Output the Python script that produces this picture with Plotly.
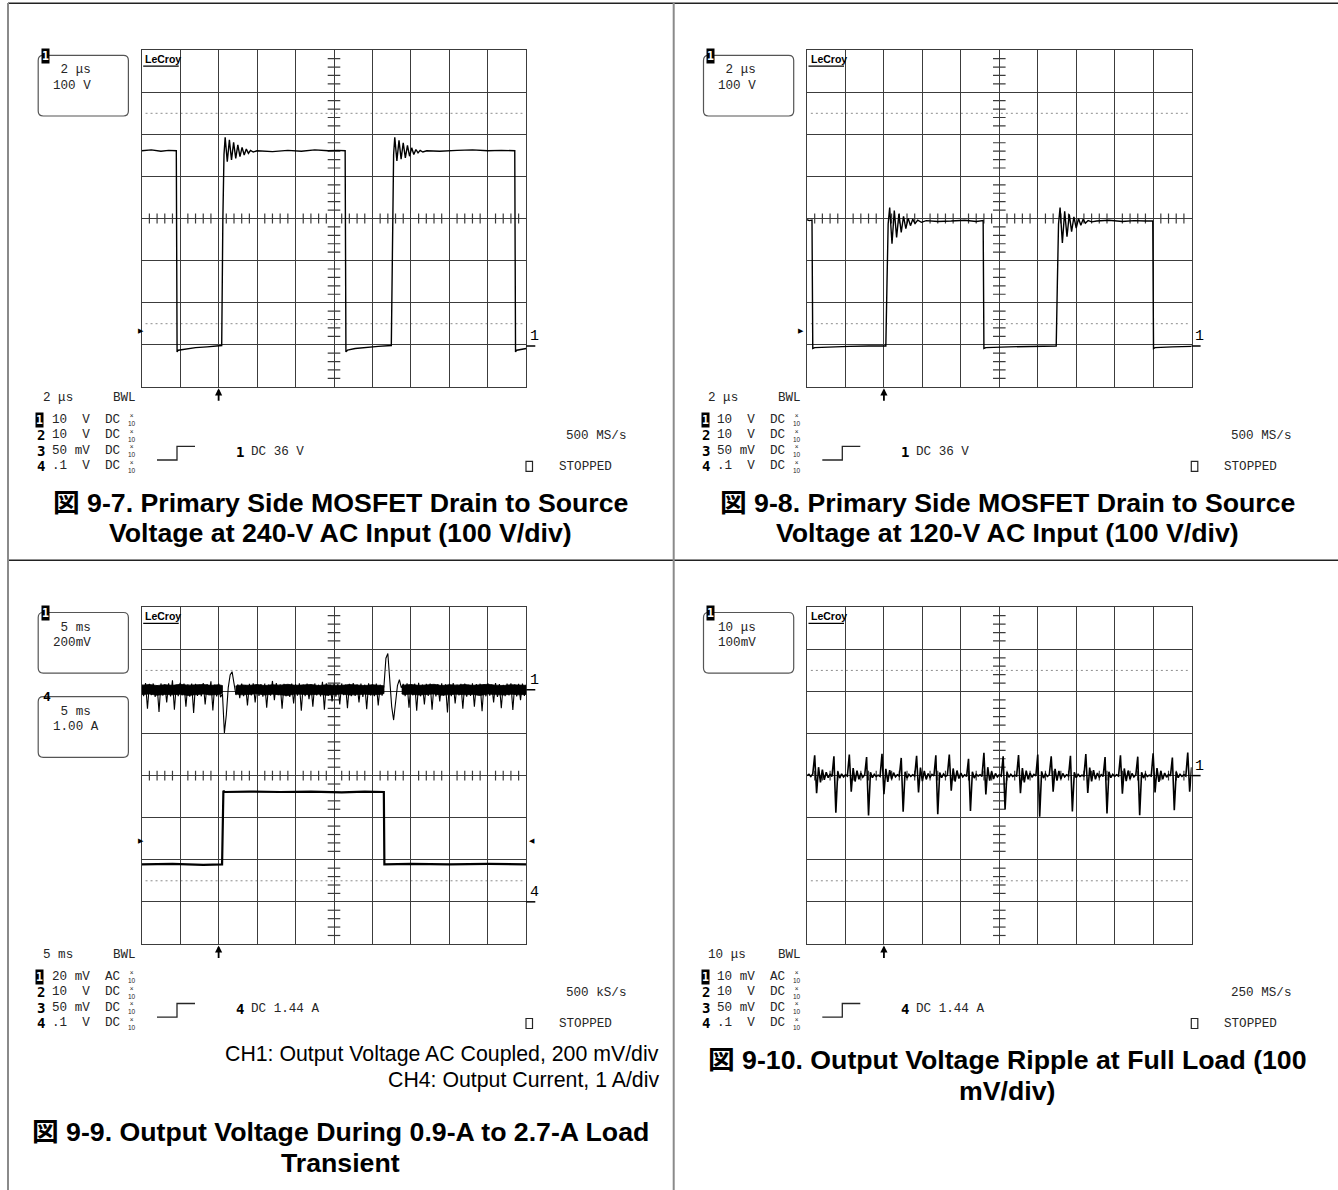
import plotly.graph_objects as go

W, H = 1338, 1190

# ---------------- data ----------------
# Fig 9-7: Vds at 240 VAC input (time in us, 2 us/div; volts, 100 V/div)
t_97 = [0.0, 0.5, 1.0, 1.4, 1.80,
        1.84, 1.9, 2.3, 2.8, 3.4, 3.9, 4.16,
        4.22, 4.28,
        4.34, 4.45, 4.56, 4.67, 4.78, 4.89, 5.00, 5.11, 5.22, 5.33, 5.44, 5.55, 5.66, 5.80, 6.00,
        6.8, 7.6, 8.3, 9.0, 9.7, 10.2, 10.58,
        10.62, 10.7, 11.1, 11.7, 12.3, 12.98,
        13.04, 13.10,
        13.16, 13.27, 13.38, 13.49, 13.60, 13.71, 13.82, 13.93, 14.04, 14.15, 14.26, 14.37, 14.48, 14.62, 14.82,
        15.5, 16.4, 17.2, 18.0, 18.7, 19.40,
        19.44, 19.5, 19.8, 20.0]
v_97 = [464, 466, 463, 465, 464,
        -14, -10, -7, -4, -2, 0, 1,
        300, 455,
        496, 438, 490, 442, 484, 446, 478, 450, 472, 454, 468, 458, 465, 461, 464,
        462, 465, 463, 466, 464, 465, 464,
        -14, -10, -6, -3, -1, 1,
        300, 455,
        496, 440, 489, 444, 483, 447, 477, 451, 471, 455, 467, 459, 465, 461, 464,
        463, 465, 466, 464, 465, 464,
        -14, -10, -7, -6]

# Fig 9-8: Vds at 120 VAC input
t_98 = [0.0, 0.12, 0.26,
        0.30, 0.4, 1.2, 2.2, 3.2, 4.10,
        4.16, 4.22,
        4.30, 4.42, 4.54, 4.66, 4.78, 4.90, 5.02, 5.14, 5.26, 5.38, 5.50, 5.62, 5.76, 5.95, 6.20,
        6.8, 7.5, 8.2, 8.8, 9.16,
        9.20, 9.3, 10.5, 11.8, 12.96,
        13.02, 13.08,
        13.16, 13.28, 13.40, 13.52, 13.64, 13.76, 13.88, 14.00, 14.12, 14.24, 14.36, 14.48, 14.62, 14.81, 15.06,
        15.7, 16.4, 17.0, 17.6, 17.98,
        18.02, 18.1, 19.0, 20.0]
v_98 = [300, 298, 299,
        -6, -4, -2, -1, 0, 0,
        150, 290,
        329, 243, 322, 258, 314, 270, 308, 279, 304, 286, 301, 291, 299, 294, 298,
        296, 297, 299, 296, 298,
        -6, -4, -2, -1, 0,
        150, 290,
        329, 245, 320, 260, 313, 272, 307, 280, 303, 287, 301, 292, 298, 295, 297,
        299, 296, 298, 297, 297,
        -6, -4, -2, -1]

# Fig 9-9: CH1 output voltage (AC, mV) sampled every 0.25 ms; CH4 output current (A)
ch1_dt_ms = 0.25
ch1_mv = [25, -30, 32, -90, 28, -26, 30, -34, 22, -105,
          30, -28, 26, -60, 31, -32, 45, -95, 24, -30,
          33, -27, 29, -80, 26, -33, 30, -110, 28, -29,
          24, -31, 32, -70, 27, -26, 40, -98, 25, -32,
          29, -35, -20, -205, -120, 10, 70, 86, 30, -25,
          26, -40, 30, -30, 22, -75, 28, -27, 31, -60,
          24, -29, 27, -33, 30, -85, 25, -28, 42, -50,
          32, -26, 26, -90, 28, -31, 23, -34, 30, -65,
          27, -28, 31, -100, 25, -30, 29, -45, 26, -80,
          30, -27, 24, -32, 38, -95, 31, -29, 25, -55,
          29, -33, 27, -70, 30, -26, 24, -88, 28, -31,
          32, -29, 26, -60, 29, -34, 25, -92, 31, -27,
          27, -30, 30, -75, 24, -28, 20, 150, 172, 60,
          -80, -144, -60, 20, 48, 10, 28, -30, 31, -85,
          26, -27, 29, -100, 33, -31, 25, -70, 28, -29,
          30, -95, 24, -32, 27, -55, 31, -28, 26, -108,
          29, -30, 32, -65, 25, -27, 28, -90, 30, -33,
          24, -29, 31, -80, 27, -26, 29, -102, 26, -31,
          30, -28, 25, -60, 32, -34, 27, -88, 24, -30,
          29, -27, 31, -96, 26, -32, 28, -50, 30, -29,
          25]
# peak-detect envelope of the CH1 noise band (ms, mV), broken around the two transients
env_t = [[0, 1, 2, 3, 4, 5, 6, 7, 8, 9, 10, 10.5],
         [12.2, 13, 14, 15, 16, 17, 18, 19, 20, 21, 22, 23, 24, 25, 26, 27, 28, 29, 30, 31, 31.5],
         [33.8, 34, 35, 36, 37, 38, 39, 40, 41, 42, 43, 44, 45, 46, 47, 48, 49, 50]]
env_hi = [[22, 25, 20, 24, 21, 26, 22, 23, 25, 21, 24, 20],
          [18, 23, 21, 25, 20, 24, 22, 26, 21, 23, 25, 20, 24, 22, 21, 25, 23, 20, 24, 22, 19],
          [18, 22, 25, 21, 23, 26, 20, 24, 22, 25, 21, 23, 26, 22, 20, 24, 23, 21]]
env_lo = [[-23, -20, -26, -22, -24, -21, -27, -22, -20, -25, -22, -18],
          [-20, -24, -22, -19, -25, -21, -23, -27, -20, -22, -24, -21, -26, -22, -20, -25, -23, -21, -24, -22, -18],
          [-19, -23, -21, -25, -22, -20, -26, -23, -21, -24, -22, -27, -20, -23, -25, -21, -24, -22]]
t_ch4 = [0, 4, 8, 10.45, 10.62, 10.8, 14, 18, 22, 26, 29, 31.48, 31.55, 35, 40, 45, 50]
i_ch4 = [0.89, 0.9, 0.88, 0.89, 2.64, 2.61, 2.62, 2.61, 2.62, 2.6, 2.62, 2.61, 0.89, 0.9, 0.89, 0.9, 0.89]

# Fig 9-10: output ripple (mV) sampled every 0.5 us
rip_dt_us = 0.5
rip_mv = [0, 3, -2, 4, 48, -42, 20, -16, 14, -10,
          8, -5, 3, -2, 46, -88, 10, -6, 4, -3,
          2, -1, 50, -38, 18, -14, 12, -9, 6, -4,
          2, 44, -95, 8, -5, 3, -2, 1, -2, 52,
          -44, 16, -15, 13, -8, 7, -3, 2, -1, 42,
          -86, 9, -6, 3, -2, 2, -1, 47, -40, 19,
          -13, 11, -9, 5, -4, 3, -1, 48, -92, 7,
          -5, 4, -2, 1, 50, -36, 17, -14, 12, -7,
          6, -3, 2, -2, 40, -84, 9, -6, 3, -1,
          2, -2, 54, -45, 20, -12, 10, -8, 5, -3,
          2, -1, 46, -80, 8, -4, 3, -2, 1, -1,
          49, -42, 18, -16, 12, -9, 6, -4, 3, -1,
          50, -98, 10, -6, 4, -2, 2, 46, -38, 16,
          -12, 11, -8, 5, -3, 2, -1, 47, -85, 8,
          -5, 3, -2, 1, -1, 51, -41, 19, -14, 13,
          -9, 6, -4, 2, -2, 44, -90, 9, -5, 3,
          -2, 2, -1, 48, -43, 17, -13, 12, -8, 5,
          -3, 2, 45, -94, 8, -6, 4, -2, 1, -1,
          53, -40, 18, -15, 11, -9, 6, -4, 3, -1,
          43, -82, 9, -5, 3, -2, 2, -1, 55, -38,
          20]

# scope read-outs and captions
NB = "\u00a0"
box_text = [[NB + "2 μs", "100 V"], [NB + "2 μs", "100 V"], [NB + "5 ms", "200mV"], ["10 μs", "100mV"]]
timebase = ["2 μs", "2 μs", "5 ms", "10 μs"]
ch_rows = [
    ["10  V  DC", "10  V  DC", "50 mV  DC", ".1  V  DC"],
    ["10  V  DC", "10  V  DC", "50 mV  DC", ".1  V  DC"],
    ["20 mV  AC", "10  V  DC", "50 mV  DC", ".1  V  DC"],
    ["10 mV  AC", "10  V  DC", "50 mV  DC", ".1  V  DC"],
]
sample_rate = ["500 MS/s", "500 MS/s", "500 kS/s", "250 MS/s"]
trig_src = ["1", "1", "4", "4"]
trig_txt = ["DC 36 V", "DC 36 V", "DC 1.44 A", "DC 1.44 A"]
captions = [
    ("図 9-7. Primary Side MOSFET Drain to Source", "Voltage at 240-V AC Input (100 V/div)"),
    ("図 9-8. Primary Side MOSFET Drain to Source", "Voltage at 120-V AC Input (100 V/div)"),
    ("図 9-9. Output Voltage During 0.9-A to 2.7-A Load", "Transient"),
    ("図 9-10. Output Voltage Ripple at Full Load (100", "mV/div)"),
]
notes_99 = ["CH1: Output Voltage AC Coupled, 200 mV/div", "CH4: Output Current, 1 A/div"]

# ---------------- layout helpers ----------------
GRID = "#3c3c3c"
INK = "#262626"
MONO = "Liberation Mono, DejaVu Sans Mono, monospace"
SANS = "Liberation Sans, Noto Sans CJK JP, Arial, sans-serif"
FS = 12.6
GW, GH = 384.6, 336.6

panels = [
    dict(xa="x", ya="y", gx=141.7, gy=50.2, xmax=20, ydiv=100, ymid=303),
    dict(xa="x2", ya="y2", gx=807.0, gy=50.2, xmax=20, ydiv=100, ymid=303),
    dict(xa="x3", ya="y3", gx=141.7, gy=607.3, xmax=50, ydiv=200, ymid=-408),
    dict(xa="x4", ya="y5", gx=807.0, gy=607.3, xmax=100, ydiv=100, ymid=0),
]


def X(px):
    return px / W


def Y(py):
    return 1 - py / H


fig = go.Figure()
shapes, ann = [], []

axis_style = dict(showgrid=True, gridcolor=GRID, gridwidth=1.3, zeroline=False,
                  showticklabels=False, ticks="", showline=True, linecolor=GRID,
                  linewidth=1.4, mirror=True, fixedrange=True)
lay = {}
for p in panels:
    xn = "xaxis" + p["xa"][1:]
    yn = "yaxis" + p["ya"][1:]
    lay[xn] = dict(domain=[X(p["gx"]), X(p["gx"] + GW)], range=[0, p["xmax"]], tick0=0,
                   dtick=p["xmax"] / 10, anchor=p["ya"], **axis_style)
    lay[yn] = dict(domain=[Y(p["gy"] + GH), Y(p["gy"])],
                   range=[p["ymid"] - 4 * p["ydiv"], p["ymid"] + 4 * p["ydiv"]],
                   tick0=p["ymid"], dtick=p["ydiv"], anchor=p["xa"], **axis_style)
# CH4 current scale of Fig 9-9 (1 A/div, ground 3 div below centre)
lay["yaxis4"] = dict(overlaying="y3", anchor="x3", range=[-1, 7], visible=False, fixedrange=True)

# centre crosshair minor ticks and dotted reference lines
for p in panels:
    xd = p["xmax"] / 10
    xs = [k * xd / 5 for k in range(1, 50) if k % 5]
    fig.add_trace(go.Scatter(x=xs, y=[p["ymid"]] * len(xs), xaxis=p["xa"], yaxis=p["ya"],
                             mode="markers", hoverinfo="skip",
                             marker=dict(symbol="line-ns", size=7, line=dict(width=1.2, color=GRID))))
    ys = [p["ymid"] - 4 * p["ydiv"] + k * p["ydiv"] / 5 for k in range(1, 40) if k % 5]
    fig.add_trace(go.Scatter(x=[p["xmax"] / 2] * len(ys), y=ys, xaxis=p["xa"], yaxis=p["ya"],
                             mode="markers", hoverinfo="skip",
                             marker=dict(symbol="line-ew", size=9, line=dict(width=1.2, color=GRID))))
    for s in (-2.5, 2.5):
        yv = p["ymid"] + s * p["ydiv"]
        shapes.append(dict(type="line", xref=p["xa"] + " domain", yref=p["ya"], x0=0.01, x1=0.99,
                           y0=yv, y1=yv, layer="below",
                           line=dict(color="#8c8c8c", width=1, dash="2px,3px")))

# waveforms
wave = dict(color="black", width=1.4)
fig.add_trace(go.Scatter(x=t_97, y=v_97, xaxis="x", yaxis="y", mode="lines", line=wave))
fig.add_trace(go.Scatter(x=t_98, y=v_98, xaxis="x2", yaxis="y2", mode="lines", line=wave))
band_x, band_y = [], []
for ts, hi, lo in zip(env_t, env_hi, env_lo):
    band_x += ts + ts[::-1] + [None]
    band_y += hi + lo[::-1] + [None]
fig.add_trace(go.Scatter(x=band_x, y=band_y, xaxis="x3", yaxis="y3", mode="lines", fill="toself",
                         fillcolor="black", line=dict(color="black", width=0.8)))
fig.add_trace(go.Scatter(y=ch1_mv, x0=0, dx=ch1_dt_ms, xaxis="x3", yaxis="y3", mode="lines",
                         line=dict(color="black", width=1.1)))
fig.add_trace(go.Scatter(x=t_ch4, y=i_ch4, xaxis="x3", yaxis="y4", mode="lines",
                         line=dict(color="black", width=2.2)))
fig.add_trace(go.Scatter(y=rip_mv, x0=0, dx=rip_dt_us, xaxis="x4", yaxis="y5", mode="lines",
                         line=dict(color="black", width=1.6)))


def txt(x, y, s, size=FS, family=MONO, color=INK, xanchor="left", yanchor="middle", **kw):
    ann.append(dict(xref="paper", yref="paper", x=X(x), y=Y(y), text=s.replace(" ", NB) if family == MONO else s,
                    showarrow=False, xanchor=xanchor, yanchor=yanchor,
                    font=dict(family=family, size=size, color=color), **kw))


def rbox(x0, y0, x1, y1, r=5):
    rx, ry = r / W, r / H
    a, b, c, d = X(x0), X(x1), Y(y0), Y(y1)
    path = (f"M{a + rx},{c} L{b - rx},{c} Q{b},{c} {b},{c - ry} L{b},{d + ry} Q{b},{d} {b - rx},{d} "
            f"L{a + rx},{d} Q{a},{d} {a},{d + ry} L{a},{c - ry} Q{a},{c} {a + rx},{c} Z")
    shapes.append(dict(type="path", xref="paper", yref="paper", path=path,
                       line=dict(color="#555", width=1.2)))


def chip(x, y, s):
    txt(x, y, "<b>" + s + "</b>", size=11.5, family="DejaVu Sans Mono", color="white",
        bgcolor="black", borderpad=0)


for n, p in enumerate(panels):
    gx, gy = p["gx"], p["gy"]
    gb = gy + GH
    # LeCroy logo
    txt(gx + 1.5, gy + 8.8, "<b>LeCroy</b>", size=10.5, family=SANS, color="black")
    shapes.append(dict(type="line", xref="paper", yref="paper", x0=X(gx + 1.5), x1=X(gx + 37),
                       y0=Y(gy + 16), y1=Y(gy + 16), line=dict(color="black", width=1.3)))
    # trace descriptor box(es)
    boxes = [(box_text[n], "1")]
    if n == 2:
        boxes.append(([NB + "5 ms", "1.00 A"], "4"))
    for k, (lines, mark) in enumerate(boxes):
        oy = gy + 84.2 * k
        rbox(gx - 103.5, oy + 5.2, gx - 13.3, oy + 65.8)
        txt(gx - 91, oy + 20.2, lines[0])
        txt(gx - 91, oy + 35.5, lines[1])
        if mark == "1":
            chip(gx - 100.7, oy + 5.5, "1")
        else:
            txt(gx - 101, oy + 5, "<b>4</b>", size=13, family="DejaVu Sans Mono", color="black")
    # read-outs under the grid
    txt(gx - 100.7, gb + 11, timebase[n])
    txt(gx - 31.1, gb + 11, "BWL")
    for k, row in enumerate(ch_rows[n]):
        yy = gb + 33 + 15.5 * k
        if k == 0:
            chip(gx - 106.5, yy, "1")
        else:
            txt(gx - 107, yy, "<b>%d</b>" % (k + 1), size=14, family="DejaVu Sans Mono", color="black")
        txt(gx - 91.7, yy, row)
        txt(gx - 10.2, yy, "×<br>10", size=6.5, family=SANS, xanchor="center")
    txt(gx + 422.3, gb + 49.5, sample_rate[n])
    sx0, sx1, sx2 = X(gx + 15.3), X(gx + 35.3), X(gx + 53.3)
    shapes.append(dict(type="path", xref="paper", yref="paper",
                       path=f"M{sx0},{Y(gb + 73.2)} L{sx1},{Y(gb + 73.2)} L{sx1},{Y(gb + 59.6)} L{sx2},{Y(gb + 59.6)}",
                       line=dict(color=INK, width=1.3)))
    txt(gx + 92, gb + 65, "<b>" + trig_src[n] + "</b>", size=14, family="DejaVu Sans Mono", color="black")
    txt(gx + 107.3, gb + 65, trig_txt[n])
    shapes.append(dict(type="rect", xref="paper", yref="paper", x0=X(gx + 384.3), x1=X(gx + 390.8),
                       y0=Y(gb + 74.6), y1=Y(gb + 84.6), line=dict(color=INK, width=1.2)))
    txt(gx + 415.3, gb + 80, "STOPPED")
    # trigger-position arrow below the grid
    ann.append(dict(xref=p["xa"], yref="paper", x=p["xmax"] / 5, y=Y(gb + 1.5), ax=0, ay=14,
                    showarrow=True, arrowhead=2, arrowsize=0.8, arrowwidth=1.8,
                    arrowcolor="black", text=""))


def ground_mark(p, yref, yv, label):
    gx = p["gx"]
    ann.append(dict(xref="paper", yref=yref, x=X(gx + GW + 1.5), y=yv, text=label, showarrow=False,
                    xanchor="left", yanchor="bottom", yshift=-1,
                    font=dict(family=MONO, size=15, color="black")))
    shapes.append(dict(type="line", xref="paper", yref=yref, x0=X(gx + GW), x1=X(gx + GW + 9),
                       y0=yv, y1=yv, line=dict(color="black", width=1.5)))


def trig_mark(p, yref, yv, right=False):
    x = p["gx"] + GW + 6 if right else p["gx"] - 6
    ann.append(dict(xref="paper", yref=yref, x=X(x), y=yv, text="◀" if right else "▶",
                    showarrow=False, font=dict(size=7, color="black", family="DejaVu Sans")))


ground_mark(panels[0], "y", 0, "1")
ground_mark(panels[1], "y2", 0, "1")
ground_mark(panels[2], "y3", 0, "1")
ground_mark(panels[2], "y4", 0, "4")
ground_mark(panels[3], "y5", 0, "1")
trig_mark(panels[0], "y", 36)
trig_mark(panels[1], "y2", 36)
trig_mark(panels[2], "y4", 1.44)
trig_mark(panels[2], "y4", 1.44, right=True)

# figure captions
cap_y = [(503, 533), (503, 533), (1132, 1163), (1060, 1091)]
cap_x = [341, 1007, 341, 1007]
for (l1, l2), (y1, y2), cx in zip(captions, cap_y, cap_x):
    txt(cx, y1, "<b>" + l1 + "</b>", size=26.7, family=SANS, color="black", xanchor="center")
    txt(cx, y2, "<b>" + l2 + "</b>", size=26.7, family=SANS, color="black", xanchor="center")
txt(661, 1054, notes_99[0], size=21.3, family=SANS, color="black", xanchor="right")
txt(661, 1080, notes_99[1], size=21.3, family=SANS, color="black", xanchor="right")

# table rules
shapes += [
    dict(type="line", xref="paper", yref="paper", x0=X(8), x1=1, y0=Y(3.3), y1=Y(3.3),
         line=dict(color="#222", width=1.6)),
    dict(type="line", xref="paper", yref="paper", x0=X(8), x1=1, y0=Y(560.3), y1=Y(560.3),
         line=dict(color="#222", width=1.6)),
    dict(type="line", xref="paper", yref="paper", x0=X(8), x1=X(8), y0=Y(3), y1=0,
         line=dict(color="#8a8a8a", width=2)),
    dict(type="line", xref="paper", yref="paper", x0=X(673.7), x1=X(673.7), y0=Y(3), y1=0,
         line=dict(color="#8a8a8a", width=2)),
]

fig.update_layout(width=W, height=H, margin=dict(l=0, r=0, t=0, b=0), showlegend=False,
                  paper_bgcolor="white", plot_bgcolor="white", shapes=shapes, annotations=ann, **lay)
fig.write_html("out.html", config={"displayModeBar": False},
               post_script="document.body.style.margin='0px';")
